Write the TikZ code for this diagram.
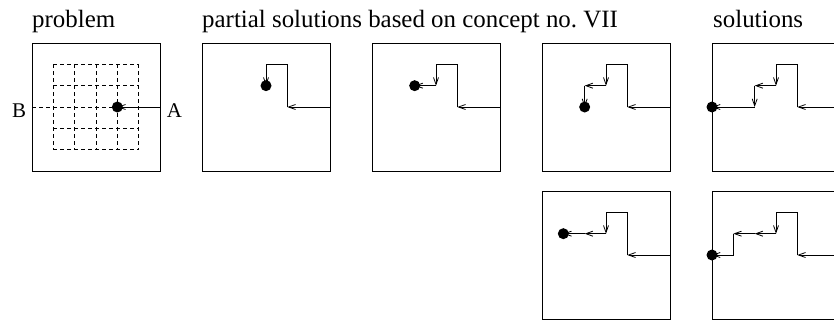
\documentclass[tikz,border=0pt]{standalone}
\usepackage{fontspec}
\setmainfont{Liberation Serif}
\usetikzlibrary{arrows.meta}
\frenchspacing
\tikzset{
  frame/.style={draw, line width=0.9bp},
  gridline/.style={draw, line width=0.8bp, dash pattern=on 4bp off 3bp},
  move/.style={draw, line width=0.8bp, -{Straight Barb[length=7bp,width=5bp]}},
  title/.style={anchor=base west, inner sep=0pt, font=\fontsize{25}{30}\selectfont},
  letter/.style={inner sep=0pt, font=\fontsize{21}{25}\selectfont},
  ball/.style={fill=black},
}
\newcommand{\boxat}[2]{\begin{scope}[xshift=#1bp, yshift=-#2bp, x=21.333bp, y=-21.333bp]}
\newcommand{\boxend}{\end{scope}}
\begin{document}
\begin{tikzpicture}[x=1bp, y=-1bp]
\useasboundingbox (0,0) rectangle (834,320);
\clip (0,0) rectangle (834,320);
% titles
\node[title] (t1) at (32,27) {problem};
\node[title] (t2) at (202,27) {partial solutions based on concept no. VII};
\node[title] (t3) at (713,27) {solutions};
% problem box
\boxat{32}{43}
  \draw[frame] (0,0) rectangle (6,6);
  \foreach \i in {1,...,5} {\draw[gridline] (\i,1) -- (\i,5);}
  \foreach \j in {1,2,4,5} {\draw[gridline] (1,\j) -- (5,\j);}
  \draw[gridline] (0,3) -- (4,3);
  \draw[move] (6,3) -- (4,3);
  \fill[ball] (4,3) circle[radius=5.5bp];
\boxend
\node[letter] (B) at (19,110.5) {B};
\node[letter] (A) at (174.5,110.5) {A};
% partial 1
\boxat{202}{43}
  \draw[frame] (0,0) rectangle (6,6);
  \draw[move] (6,3) -- (4,3);
  \draw[move] (4,3) -- (4,1) -- (3,1) -- (3,2);
  \fill[ball] (3,2) circle[radius=5.5bp];
\boxend
% partial 2
\boxat{372}{43}
  \draw[frame] (0,0) rectangle (6,6);
  \draw[move] (6,3) -- (4,3);
  \draw[move] (4,3) -- (4,1) -- (3,1) -- (3,2);
  \draw[move] (3,2) -- (2,2);
  \fill[ball] (2,2) circle[radius=5.5bp];
\boxend
% partial 3
\boxat{542}{43}
  \draw[frame] (0,0) rectangle (6,6);
  \draw[move] (6,3) -- (4,3);
  \draw[move] (4,3) -- (4,1) -- (3,1) -- (3,2);
  \draw[move] (3,2) -- (2,2);
  \draw[move] (2,2) -- (2,3);
  \fill[ball] (2,3) circle[radius=5.5bp];
\boxend
% solution 1
\boxat{712}{43}
  \draw[frame] (0,0) rectangle (6,6);
  \draw[move] (6,3) -- (4,3);
  \draw[move] (4,3) -- (4,1) -- (3,1) -- (3,2);
  \draw[move] (3,2) -- (2,2);
  \draw[move] (2,2) -- (2,3);
  \draw[move] (2,3) -- (0,3);
  \fill[ball] (0,3) circle[radius=5.5bp];
\boxend
% partial 4
\boxat{542}{191}
  \draw[frame] (0,0) rectangle (6,6);
  \draw[move] (6,3) -- (4,3);
  \draw[move] (4,3) -- (4,1) -- (3,1) -- (3,2);
  \draw[move] (3,2) -- (2,2);
  \draw[move] (2,2) -- (1,2);
  \fill[ball] (1,2) circle[radius=5.5bp];
\boxend
% solution 2
\boxat{712}{191}
  \draw[frame] (0,0) rectangle (6,6);
  \draw[move] (6,3) -- (4,3);
  \draw[move] (4,3) -- (4,1) -- (3,1) -- (3,2);
  \draw[move] (3,2) -- (2,2);
  \draw[move] (2,2) -- (1,2);
  \draw[move] (1,2) -- (1,3) -- (0,3);
  \fill[ball] (0,3) circle[radius=5.5bp];
\boxend
\end{tikzpicture}
\end{document}
